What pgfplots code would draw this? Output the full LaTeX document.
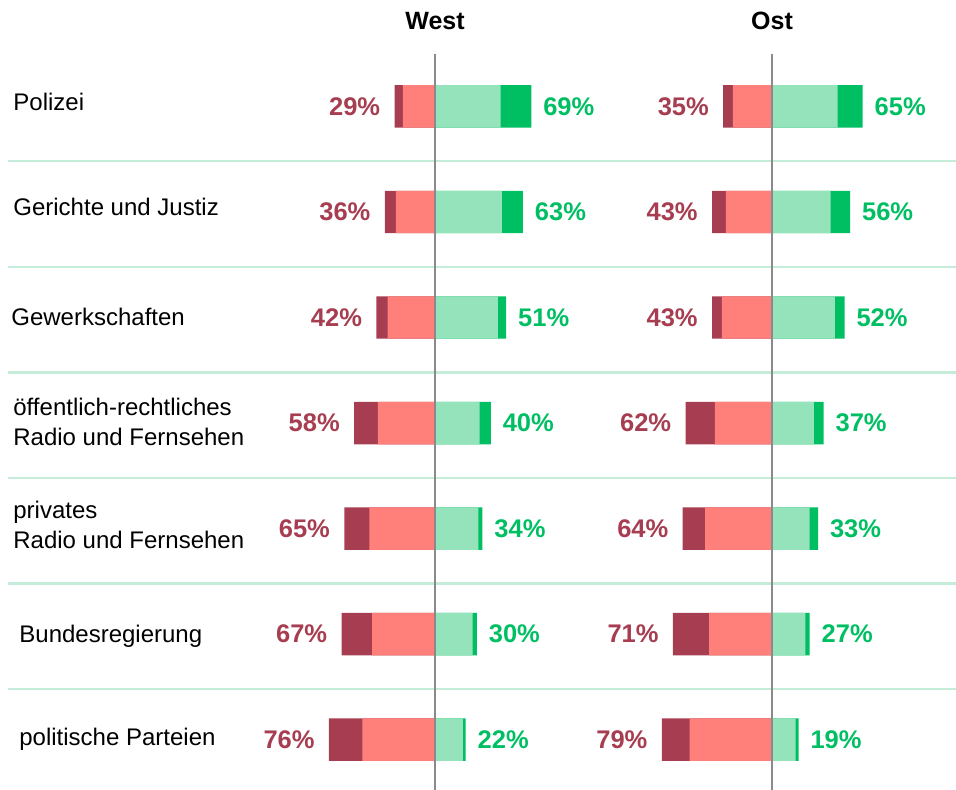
\documentclass[border=0pt]{standalone}
\usepackage{fontspec}
\setmainfont{Liberation Sans}
\usepackage{pgfplots}
\usepackage{pgfplotstable}
\pgfplotsset{compat=1.18}

\definecolor{sdis}{HTML}{A63D50}
\definecolor{dis}{HTML}{FF7F7A}
\definecolor{tru}{HTML}{94E3BB}
\definecolor{stru}{HTML}{00BF63}
\definecolor{sepc}{HTML}{C4ECD8}
\definecolor{midc}{HTML}{8A8A8A}
\newcommand\pctfont{\fontsize{12.75}{15}\selectfont\bfseries}
% label with its baseline raised by #1 from the row centre
\newcommand\lab[2]{\raisebox{#1}[0pt][0pt]{#2}}
\newcommand\two[2]{\begin{tabular}[t]{@{}l@{}}#1\\#2\end{tabular}}

% sd = kein Vertrauen, d = wenig, t = eher, st = großes Vertrauen
\pgfplotstableread{
row sd d  t  st neg pos
0   6  23 47 22 29  69
1   8  28 48 15 36  63
2   8  34 45 6  42  51
3   17 41 32 8  58  40
4   18 47 31 3  65  34
5   22 45 27 3  67  30
6   24 52 20 2  76  22
}\west

\pgfplotstableread{
row sd d  t  st neg pos
0   7  28 47 18 35  65
1   10 33 42 14 43  56
2   7  36 45 7  43  52
3   21 41 30 7  62  37
4   16 48 27 6  64  33
5   26 45 24 3  71  27
6   20 59 17 2  79  19
}\ost

\pgfplotsset{
  panel/.style={
    x=0.6975pt, y=52.77pt, y dir=reverse,
    ymin=-0.5, ymax=6.5,
    axis line style={draw=none}, tick style={draw=none},
    xtick=\empty, clip=false,
  },
  seg/.style={xbar, bar width=21.2pt, bar shift=0pt, draw=none},
  negl/.style={nodes near coords={\pgfplotspointmeta\%},
    point meta=explicit symbolic,
    nodes near coords style={anchor=east, xshift=-7pt, inner sep=0pt,
      text=sdis, font=\pctfont}},
  posl/.style={nodes near coords={\pgfplotspointmeta\%},
    point meta=explicit symbolic,
    nodes near coords style={anchor=west, xshift=5.8pt, inner sep=0pt,
      text=stru, font=\pctfont}},
}

\begin{document}
\begin{tikzpicture}
\useasboundingbox (0,0) rectangle (478pt,-394.5pt);
\node[font=\fontsize{12.5}{15}\selectfont\bfseries, anchor=base] at (217.5pt,-14.65pt) {West};
\node[font=\fontsize{12.5}{15}\selectfont\bfseries, anchor=base] at (386pt,-14.65pt) {Ost};

\begin{axis}[panel, at={(6.5pt,-26.83pt)}, anchor=north west,
  xmin=-302.51, xmax=100,
  ytick={0,...,6},
  yticklabels={\lab{-2.25pt}{Polizei},
    \lab{-2pt}{Gerichte und Justiz},
    \lab{-4.05pt}{\hspace*{-1pt}Gewerkschaften},
    \lab{3.7pt}{\two{öffentlich-rechtliches}{Radio und Fernsehen}},
    \lab{5.1pt}{\two{privates}{Radio und Fernsehen}},
    \lab{-4.3pt}{\hspace*{3pt}Bundesregierung},
    \lab{-3pt}{\hspace*{3pt}politische Parteien}},
  yticklabel style={anchor=west, inner sep=0pt,
    font=\fontsize{12}{15}\selectfont},
]
\pgfplotsinvokeforeach{0.52,1.52,2.52,3.52,4.52,5.52}{
  \draw[sepc, line width=1.1pt] (axis cs:-306.1,#1) -- (axis cs:373.5,#1);
}
\addplot[seg, fill=sdis, negl] table[x expr=-\thisrow{sd}-\thisrow{d}, y=row, meta=neg] {\west};
\addplot[seg, fill=dis] table[x expr=-\thisrow{d}, y=row] {\west};
\addplot[seg, fill=stru, posl] table[x expr=\thisrow{t}+\thisrow{st}, y=row, meta=pos] {\west};
\addplot[seg, fill=tru] table[x=t, y=row] {\west};
\draw[midc, line width=0.9pt] (axis cs:0,-0.5) -- (axis cs:0,6.5);
\end{axis}

\begin{axis}[panel, at={(316.25pt,-26.83pt)}, anchor=north west,
  xmin=-100, xmax=100, ytick=\empty,
]
\addplot[seg, fill=sdis, negl] table[x expr=-\thisrow{sd}-\thisrow{d}, y=row, meta=neg] {\ost};
\addplot[seg, fill=dis] table[x expr=-\thisrow{d}, y=row] {\ost};
\addplot[seg, fill=stru, posl] table[x expr=\thisrow{t}+\thisrow{st}, y=row, meta=pos] {\ost};
\addplot[seg, fill=tru] table[x=t, y=row] {\ost};
\draw[midc, line width=0.9pt] (axis cs:0,-0.5) -- (axis cs:0,6.5);
\end{axis}
\end{tikzpicture}
\end{document}
